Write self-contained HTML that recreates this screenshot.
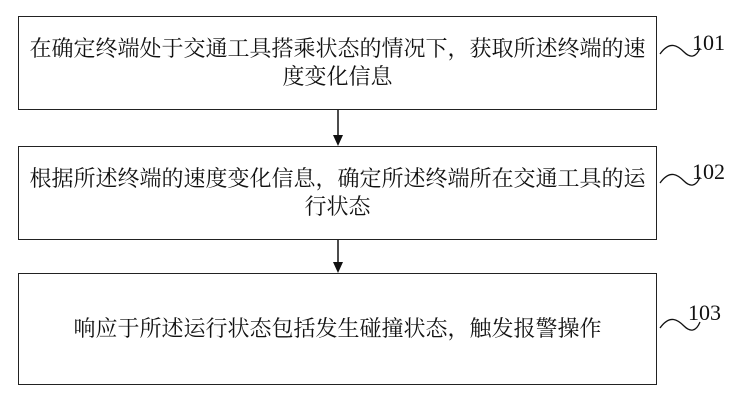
<!DOCTYPE html>
<html><head><meta charset="utf-8"><style>
body{margin:0;width:750px;height:405px;background:#fff;position:relative;overflow:hidden;font-family:"Liberation Serif","Noto Serif CJK SC","Noto Sans CJK SC",serif;}
.b{position:absolute;left:18px;width:639px;border:1.5px solid #222;box-sizing:border-box;display:flex;align-items:center;justify-content:center;text-align:center;font-size:22px;line-height:28px;color:#111;padding:0;white-space:nowrap;}
.n{position:absolute;font-size:22px;color:#111;}
</style></head><body>
<div class="b" style="top:16px;height:94px;"><div>在确定终端处于交通工具搭乘状态的情况下，获取所述终端的速<br>度变化信息</div></div>
<div class="b" style="top:146px;height:94px;"><div>根据所述终端的速度变化信息，确定所述终端所在交通工具的运<br>行状态</div></div>
<div class="b" style="top:273px;height:112px;">响应于所述运行状态包括发生碰撞状态，触发报警操作</div>
<div class="n" style="left:692px;top:30px;">101</div>
<div class="n" style="left:692px;top:159px;">102</div>
<div class="n" style="left:688px;top:300px;">103</div>
<svg width="750" height="405" style="position:absolute;left:0;top:0">
<line x1="338" y1="110" x2="338" y2="136" stroke="#111" stroke-width="1.5"/>
<polygon points="333,135 343,135 338,146" fill="#111"/>
<line x1="338" y1="240" x2="338" y2="263" stroke="#111" stroke-width="1.5"/>
<polygon points="333,262 343,262 338,273" fill="#111"/>
<g fill="none" stroke="#111" stroke-width="1.3">
<path d="M660,54 C670,40 678,46 684,52 C690,58 696,58 700,48"/>
<path d="M660,183 C670,169 678,175 684,181 C690,187 696,187 700,177"/>
<path d="M660,328 C670,314 678,320 684,326 C690,332 696,332 700,322"/>
</g></svg>
</body></html>
